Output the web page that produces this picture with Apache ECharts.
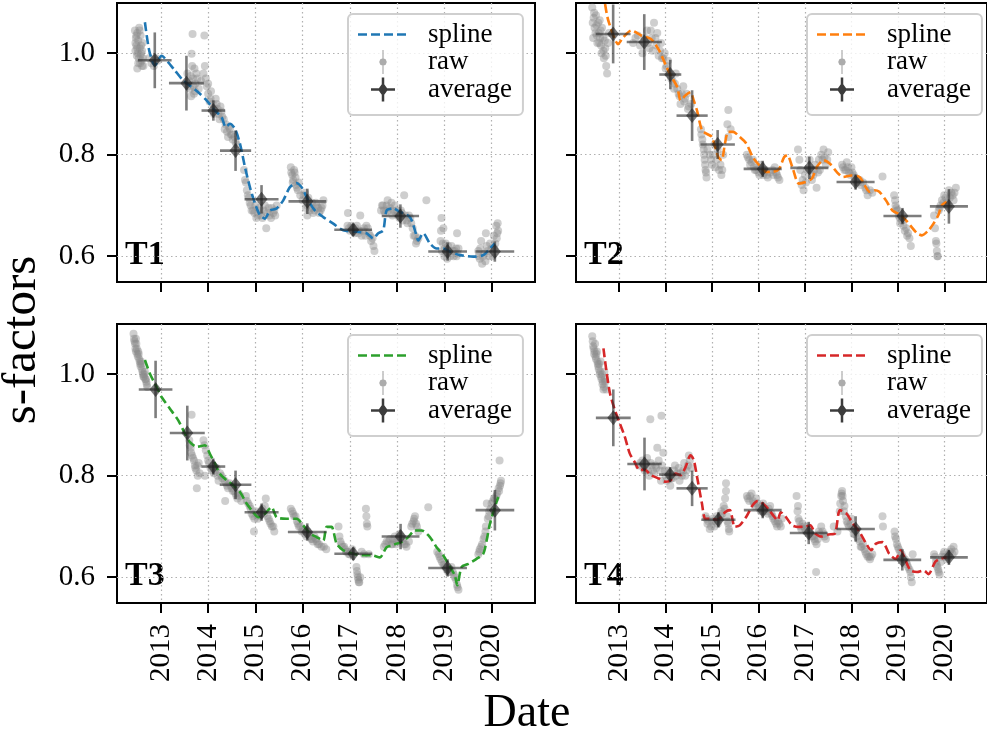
<!DOCTYPE html>
<html><head><meta charset="utf-8">
<script src="https://cdn.jsdelivr.net/npm/echarts@6/dist/echarts.min.js"></script>
<style>html,body{margin:0;padding:0;background:#fff}#c{width:987px;height:738px}</style>
</head><body><div id="c"></div>
<script>
// ---------- data ----------
const panelNames = ['T1', 'T2', 'T3', 'T4'];
const xTickYears = [2013, 2014, 2015, 2016, 2017, 2018, 2019, 2020];
const yTickValues = [0.6, 0.8, 1.0];
const xRange = [2012.07, 2020.92];
const yRange = [0.549, 1.099];
const xLabel = 'Date';
const yLabel = 's-factors';
const legendNames = ['spline', 'raw', 'average'];

const raw_T1 = [[2012.45,1.045],[2012.47,1.03],[2012.48,1.015],[2012.50,1.04],[2012.51,1.0],[2012.52,1.025],[2012.53,0.99],[2012.55,1.01],[2012.56,0.98],[2012.57,1.035],[2012.58,1.0],[2012.60,0.975],[2012.61,1.02],[2012.62,0.99],[2012.46,1.005],[2012.54,1.05],[2012.59,0.985],[2012.49,0.995],
[2012.46,1.02],[2012.48,1.035],[2012.5,1.01],[2012.52,0.98],[2012.55,1.045],[2012.57,0.995],[2012.6,1.005],[2012.63,0.975],[2012.5,0.97],[2012.58,1.015],
[2012.75,0.99],[2012.80,0.98],[2012.85,0.975],[2012.90,0.99],[2012.93,0.985],
[2013.67,1.038],[2013.92,1.035],[2013.65,0.999],
[2013.56,0.96],[2013.60,0.945],[2013.62,0.93],[2013.66,0.975],[2013.68,0.95],[2013.70,0.92],[2013.73,0.94],[2013.75,0.96],[2013.64,0.915],[2013.71,0.97],
[2013.58,0.935],[2013.63,0.955],[2013.69,0.935],[2013.72,0.925],[2013.77,0.95],[2013.8,0.93],[2013.85,0.945],
[2013.90,0.96],[2013.93,0.975],[2013.97,0.935],[2014.00,0.92],[2014.03,0.905],[2014.06,0.925],[2014.10,0.9],[2014.14,0.89],[2014.18,0.9],[2014.22,0.88],[2014.26,0.895],[2014.30,0.875],
[2013.95,0.95],[2014.0,0.94],[2014.05,0.91],[2014.12,0.88],[2014.16,0.91],[2014.2,0.89],[2014.24,0.87],[2014.28,0.885],
[2014.33,0.87],[2014.37,0.86],[2014.40,0.845],[2014.44,0.855],[2014.48,0.84],[2014.52,0.83],[2014.56,0.835],[2014.60,0.82],
[2014.35,0.85],[2014.42,0.835],[2014.46,0.85],[2014.5,0.84],[2014.58,0.825],
[2014.76,0.77],[2014.78,0.75],[2014.82,0.73],[2014.86,0.715],[2014.9,0.70],[2014.95,0.69],[2015.0,0.70],[2015.05,0.68],[2015.1,0.69],[2015.15,0.675],[2015.2,0.7],[2015.25,0.685],[2015.3,0.68],[2015.35,0.695],[2015.4,0.69],[2015.45,0.70],[2015.23,0.655],
[2014.8,0.745],[2014.84,0.72],[2014.88,0.705],[2014.92,0.69],[2014.98,0.685],[2015.02,0.675],[2015.08,0.695],[2015.12,0.68],[2015.18,0.69],[2015.28,0.695],[2015.33,0.675],[2015.38,0.685],[2015.42,0.68],
[2015.75,0.775],[2015.78,0.76],[2015.80,0.75],[2015.83,0.765],[2015.86,0.74],[2015.9,0.73],[2015.95,0.72],[2016.0,0.71],[2016.05,0.725],[2016.1,0.70],[2016.15,0.69],[2016.2,0.705],[2016.25,0.69],[2016.3,0.70],[2016.35,0.685],[2016.4,0.695],[2016.44,0.71],[2016.1,0.68],
[2015.76,0.765],[2015.79,0.745],[2015.82,0.77],[2015.85,0.755],[2015.88,0.735],[2015.92,0.745],[2016.02,0.72],[2016.07,0.695],[2016.12,0.715],[2016.18,0.695],[2016.22,0.685],[2016.28,0.705],[2016.33,0.695],[2016.38,0.69],[2016.42,0.7],
[2016.95,0.66],[2017.0,0.65],[2017.05,0.655],[2017.1,0.645],[2017.15,0.66],[2017.2,0.65],[2017.25,0.64],[2017.3,0.655],[2017.35,0.66],[2017.4,0.645],[2017.45,0.63],[2017.5,0.62],[2017.52,0.61],[2016.96,0.685],[2017.22,0.68],
[2016.98,0.655],[2017.03,0.66],[2017.08,0.65],[2017.12,0.655],[2017.18,0.645],[2017.28,0.65],[2017.33,0.64],[2017.38,0.655],[2017.43,0.64],[2017.48,0.635],
[2017.66,0.69],[2017.7,0.70],[2017.75,0.685],[2017.8,0.71],[2017.85,0.695],[2017.9,0.68],[2017.95,0.70],[2018.0,0.69],[2018.05,0.675],[2018.1,0.685],[2018.15,0.72],[2018.2,0.67],[2018.25,0.68],[2018.3,0.665],[2018.35,0.64],[2018.4,0.625],[2018.45,0.635],[2018.62,0.71],
[2017.68,0.7],[2017.72,0.69],[2017.78,0.7],[2017.82,0.69],[2017.88,0.705],[2017.92,0.69],[2017.98,0.685],[2018.02,0.68],[2018.08,0.69],[2018.12,0.67],[2018.18,0.68],[2018.22,0.665],[2018.28,0.675],[2018.33,0.655],[2018.38,0.64],[2018.42,0.63],
[2018.92,0.63],[2018.95,0.61],[2018.98,0.655],[2019.0,0.6],[2019.03,0.625],[2019.06,0.595],[2019.1,0.61],[2019.15,0.62],[2019.2,0.6],[2019.25,0.615],[2019.28,0.605],[2019.27,0.645],[2018.94,0.675],
[2018.93,0.65],[2018.97,0.625],[2019.01,0.615],[2019.04,0.605],[2019.08,0.62],[2019.12,0.6],[2019.18,0.61],[2019.22,0.61],[2019.26,0.6],[2019.3,0.615],
[2019.72,0.61],[2019.75,0.595],[2019.78,0.63],[2019.8,0.585],[2019.85,0.605],[2019.9,0.62],[2019.95,0.60],[2020.0,0.615],[2020.05,0.64],[2020.08,0.625],[2020.1,0.66],[2020.12,0.645],[2020.13,0.665],[2019.88,0.645],
[2019.73,0.6],[2019.76,0.615],[2019.82,0.6],[2019.87,0.59],[2019.92,0.61],[2019.97,0.625],[2020.02,0.6],[2020.06,0.615],[2020.11,0.635],[2020.14,0.65]];

const raw_T2 = [[2012.42,1.09],[2012.45,1.07],[2012.47,1.05],[2012.5,1.075],[2012.52,1.035],[2012.55,1.06],[2012.57,1.02],[2012.6,1.045],[2012.62,1.0],[2012.65,1.03],[2012.67,0.99],[2012.7,1.01],[2012.72,0.975],[2012.74,0.96],[2012.78,1.04],[2012.44,1.03],[2012.58,1.065],
[2012.43,1.06],[2012.46,1.08],[2012.49,1.04],[2012.51,1.055],[2012.53,1.02],[2012.56,1.04],[2012.59,1.03],[2012.61,1.015],[2012.63,1.05],[2012.66,1.005],[2012.69,1.025],[2012.71,0.995],[2012.76,1.02],
[2013.3,1.02],[2013.4,1.035],[2013.5,1.0],[2013.6,1.045],[2013.65,1.01],[2013.7,1.03],[2013.75,1.06],[2013.8,1.015],[2013.85,0.995],[2013.9,1.02],[2013.95,0.99],[2014.0,0.97],[2014.05,0.985],
[2013.35,1.03],[2013.45,1.015],[2013.55,1.03],[2013.62,1.02],[2013.68,1.045],[2013.72,1.005],[2013.78,1.03],[2013.82,1.04],[2013.88,1.005],[2013.92,0.99],[2013.98,1.0],[2014.02,0.975],[2014.08,0.96],
[2014.12,0.95],[2014.18,0.93],[2014.22,0.96],[2014.28,0.92],[2014.32,0.9],[2014.38,0.935],[2014.42,0.91],[2014.48,0.89],[2014.55,0.9],
[2014.15,0.945],[2014.2,0.94],[2014.25,0.93],[2014.3,0.915],[2014.35,0.92],[2014.4,0.905],[2014.45,0.92],[2014.5,0.895],
[2014.76,0.85],[2014.79,0.83],[2014.82,0.81],[2014.84,0.79],[2014.86,0.77],[2014.88,0.755],[2014.95,0.8],[2015.0,0.78],[2015.05,0.82],[2015.1,0.79],[2015.15,0.77],[2015.2,0.76],[2015.24,0.8],
[2014.77,0.84],[2014.8,0.82],[2014.83,0.8],[2014.85,0.78],[2014.87,0.765],[2014.9,0.81],[2014.98,0.79],[2015.02,0.8],[2015.07,0.775],[2015.12,0.81],[2015.18,0.78],[2015.22,0.77],
[2015.33,0.86],[2015.35,0.835],[2015.4,0.85],[2015.35,0.888],
[2015.75,0.80],[2015.8,0.79],[2015.85,0.785],[2015.9,0.775],[2015.95,0.77],[2016.0,0.765],[2016.05,0.78],[2016.1,0.76],[2016.15,0.77],[2016.2,0.755],[2016.3,0.77],[2016.35,0.775],[2016.4,0.76],[2016.45,0.75],
[2015.77,0.795],[2015.82,0.78],[2015.88,0.79],[2015.92,0.77],[2015.98,0.775],[2016.02,0.76],[2016.08,0.77],[2016.12,0.765],[2016.18,0.76],[2016.25,0.765],[2016.32,0.76],[2016.38,0.765],[2016.42,0.755],
[2016.85,0.81],[2016.9,0.77],[2016.93,0.74],[2016.97,0.73],[2017.0,0.76],[2017.1,0.79],[2017.15,0.75],[2017.2,0.77],[2017.25,0.735],[2017.3,0.79],[2017.35,0.8],[2017.4,0.81],[2017.45,0.78],[2017.5,0.805],
[2016.88,0.79],[2016.95,0.75],[2017.02,0.745],[2017.05,0.77],[2017.12,0.77],[2017.18,0.76],[2017.22,0.78],[2017.28,0.765],[2017.32,0.77],[2017.38,0.79],[2017.42,0.795],[2017.48,0.79],
[2017.8,0.78],[2017.85,0.77],[2017.9,0.785],[2017.95,0.765],[2018.0,0.775],[2018.05,0.76],[2018.1,0.75],[2018.15,0.745],[2018.2,0.74],[2018.3,0.735],[2018.35,0.72],[2018.45,0.725],[2018.67,0.757],
[2017.82,0.775],[2017.88,0.77],[2017.92,0.775],[2017.98,0.76],[2018.02,0.765],[2018.08,0.755],[2018.12,0.745],[2018.18,0.75],[2018.25,0.745],[2018.32,0.73],[2018.4,0.73],
[2018.92,0.72],[2018.95,0.7],[2018.98,0.69],[2019.02,0.68],[2019.05,0.665],[2019.1,0.67],[2019.15,0.65],[2019.2,0.64],[2019.25,0.635],[2019.28,0.62],
[2018.94,0.71],[2018.97,0.695],[2019.0,0.69],[2019.04,0.675],[2019.08,0.67],[2019.12,0.66],[2019.18,0.655],[2019.22,0.645],
[2019.78,0.68],[2019.8,0.655],[2019.82,0.63],[2019.84,0.61],[2019.86,0.6],[2019.9,0.695],[2019.95,0.71],[2020.0,0.72],[2020.05,0.705],[2020.1,0.73],[2020.15,0.725],[2020.2,0.71],[2020.25,0.735],
[2019.83,0.625],[2019.85,0.6],[2019.88,0.69],[2019.92,0.7],[2019.98,0.705],[2020.03,0.715],[2020.08,0.7],[2020.12,0.715],[2020.18,0.72],[2020.22,0.725]];

const raw_T3 = [[2012.42,1.08],[2012.44,1.065],[2012.46,1.05],[2012.48,1.06],[2012.5,1.04],[2012.52,1.045],[2012.54,1.03],[2012.56,1.02],[2012.58,1.025],[2012.6,1.01],[2012.62,1.0],[2012.64,0.995],[2012.66,1.005],[2012.68,0.99],[2012.7,0.98],[2012.47,1.07],
[2012.43,1.07],[2012.45,1.06],[2012.47,1.045],[2012.49,1.05],[2012.51,1.035],[2012.53,1.04],[2012.55,1.025],[2012.57,1.015],[2012.59,1.02],[2012.61,1.005],[2012.63,0.995],[2012.65,1.0],[2012.67,0.99],[2012.69,0.985],[2012.71,0.975],
[2013.6,0.87],[2013.63,0.855],[2013.66,0.84],[2013.7,0.83],[2013.72,0.82],[2013.75,0.81],[2013.78,0.8],[2013.8,0.825],[2013.65,0.92],[2013.76,0.775],
[2013.61,0.86],[2013.64,0.845],[2013.68,0.835],[2013.73,0.815],[2013.77,0.82],[2013.82,0.805],
[2013.9,0.87],[2013.95,0.85],[2014.0,0.83],[2014.05,0.815],[2014.1,0.82],[2014.15,0.81],[2014.2,0.8],[2014.25,0.805],[2014.3,0.795],[2013.93,0.8],
[2013.92,0.86],[2013.98,0.84],[2014.02,0.825],[2014.08,0.81],[2014.12,0.805],[2014.18,0.815],[2014.22,0.79],[2014.28,0.8],
[2014.35,0.79],[2014.4,0.78],[2014.45,0.785],[2014.5,0.775],[2014.55,0.77],[2014.6,0.76],[2014.65,0.765],[2014.7,0.75],[2014.36,0.75],
[2014.38,0.785],[2014.42,0.775],[2014.48,0.78],[2014.52,0.77],[2014.58,0.765],[2014.62,0.755],[2014.68,0.76],
[2014.8,0.76],[2014.85,0.745],[2014.9,0.735],[2014.95,0.72],[2015.0,0.73],[2015.05,0.715],[2015.1,0.725],[2015.15,0.735],[2015.2,0.74],[2015.25,0.72],[2015.3,0.71],[2015.35,0.7],[2015.4,0.69],[2014.97,0.69],[2015.22,0.755],
[2014.82,0.75],[2014.88,0.74],[2014.92,0.725],[2014.98,0.715],[2015.02,0.725],[2015.08,0.72],[2015.12,0.73],[2015.18,0.725],[2015.28,0.715],[2015.32,0.705],[2015.38,0.7],
[2015.75,0.735],[2015.8,0.725],[2015.85,0.72],[2015.9,0.705],[2015.95,0.7],[2016.0,0.695],[2016.05,0.685],[2016.1,0.69],[2016.15,0.68],[2016.2,0.675],[2016.25,0.68],[2016.3,0.67],[2016.35,0.665],[2016.45,0.66],[2016.5,0.655],
[2015.78,0.73],[2015.82,0.72],[2015.88,0.71],[2015.92,0.7],[2015.98,0.69],[2016.02,0.69],[2016.08,0.68],[2016.12,0.685],[2016.18,0.675],[2016.22,0.67],[2016.28,0.675],[2016.32,0.665],[2016.4,0.66],
[2016.76,0.7],[2016.8,0.67],[2016.85,0.66],[2016.9,0.655],[2016.95,0.65],[2017.0,0.645],[2017.05,0.655],
[2016.78,0.68],[2016.82,0.665],[2016.88,0.66],[2016.92,0.65],[2016.98,0.645],[2017.02,0.65],
[2017.14,0.62],[2017.16,0.605],[2017.18,0.595],[2017.2,0.59],[2017.22,0.6],[2017.15,0.612],[2017.17,0.6],[2017.19,0.59],
[2017.34,0.735],[2017.35,0.72],[2017.36,0.705],[2017.37,0.7],
[2017.25,0.65],[2017.3,0.645],[2017.4,0.645],
[2017.72,0.66],[2017.78,0.67],[2017.85,0.675],[2017.9,0.665],[2017.95,0.68],[2018.0,0.67],[2018.05,0.685],[2018.1,0.675],[2018.15,0.665],[2018.2,0.66],[2018.3,0.7],[2018.35,0.71],[2018.38,0.72],[2018.4,0.705],[2018.45,0.69],[2018.66,0.738],
[2017.75,0.665],[2017.82,0.67],[2017.88,0.665],[2017.92,0.675],[2017.98,0.665],[2018.02,0.675],[2018.08,0.68],[2018.12,0.67],[2018.18,0.665],[2018.25,0.67],[2018.32,0.705],[2018.36,0.715],[2018.42,0.7],
[2018.85,0.65],[2018.9,0.64],[2018.95,0.63],[2019.0,0.625],[2019.05,0.615],[2019.1,0.61],[2019.15,0.62],[2019.2,0.605],[2019.25,0.595],[2019.28,0.58],[2019.3,0.575],
[2018.88,0.645],[2018.92,0.635],[2018.98,0.625],[2019.02,0.62],[2019.08,0.61],[2019.12,0.615],[2019.18,0.61],[2019.22,0.6],[2019.27,0.585],
[2019.72,0.645],[2019.75,0.655],[2019.8,0.665],[2019.85,0.68],[2019.88,0.7],[2019.92,0.715],[2019.95,0.73],[2020.0,0.745],[2020.05,0.755],[2020.1,0.76],[2020.15,0.775],[2020.18,0.78],[2020.2,0.79],[2020.17,0.83],[2019.9,0.745],
[2019.74,0.65],[2019.78,0.66],[2019.83,0.675],[2019.87,0.69],[2019.94,0.72],[2019.98,0.735],[2020.03,0.75],[2020.08,0.755],[2020.12,0.765],[2020.16,0.77],[2020.19,0.785]];

const raw_T4 = [[2012.42,1.075],[2012.44,1.055],[2012.46,1.04],[2012.48,1.06],[2012.5,1.03],[2012.52,1.045],[2012.54,1.02],[2012.56,1.01],[2012.58,1.0],[2012.6,1.025],[2012.62,0.99],[2012.64,0.98],[2012.66,0.97],[2012.68,1.005],[2012.7,0.985],
[2012.43,1.065],[2012.45,1.05],[2012.47,1.045],[2012.49,1.035],[2012.51,1.04],[2012.53,1.025],[2012.55,1.015],[2012.57,1.02],[2012.59,1.005],[2012.61,0.995],[2012.63,1.0],[2012.65,0.985],[2012.67,0.975],[2012.69,0.99],[2012.72,0.97],
[2013.67,0.911],[2013.91,0.918],
[2013.42,0.82],[2013.5,0.83],[2013.55,0.81],[2013.6,0.835],[2013.65,0.8],[2013.7,0.82],[2013.75,0.805],[2013.8,0.815],[2013.85,0.83],[2013.9,0.79],[2013.95,0.845],[2014.0,0.8],[2014.05,0.81],[2014.1,0.78],[2014.15,0.795],[2014.2,0.82],[2014.25,0.805],[2014.3,0.79],[2014.35,0.8],[2014.4,0.825],[2014.45,0.81],[2014.5,0.84],[2014.55,0.815],[2013.82,0.855],
[2013.45,0.825],[2013.52,0.815],[2013.58,0.825],[2013.62,0.81],[2013.68,0.825],[2013.72,0.81],[2013.78,0.82],[2013.88,0.81],[2013.92,0.82],[2013.98,0.81],[2014.02,0.79],[2014.08,0.805],[2014.12,0.795],[2014.18,0.81],[2014.22,0.8],[2014.28,0.815],[2014.32,0.805],[2014.38,0.81],[2014.42,0.8],[2014.48,0.82],[2014.52,0.83],
[2014.86,0.72],[2014.9,0.705],[2014.95,0.695],[2015.0,0.71],[2015.05,0.7],[2015.1,0.72],[2015.15,0.715],[2015.2,0.73],[2015.25,0.74],[2015.28,0.755],[2015.3,0.77],[2015.32,0.72],[2015.35,0.705],[2015.37,0.69],[2015.3,0.785],
[2014.88,0.715],[2014.92,0.71],[2014.98,0.7],[2015.02,0.715],[2015.08,0.71],[2015.12,0.705],[2015.18,0.72],[2015.22,0.725],[2015.27,0.735],[2015.33,0.71],[2015.36,0.695],
[2015.75,0.76],[2015.8,0.75],[2015.85,0.765],[2015.9,0.745],[2015.95,0.755],[2016.0,0.74],[2016.05,0.73],[2016.1,0.745],[2016.15,0.735],[2016.2,0.725],[2016.25,0.74],[2016.3,0.72],[2016.35,0.71],[2016.4,0.7],[2016.45,0.705],[2016.5,0.715],
[2015.77,0.755],[2015.82,0.76],[2015.88,0.75],[2015.92,0.74],[2015.98,0.745],[2016.02,0.735],[2016.08,0.74],[2016.12,0.73],[2016.18,0.73],[2016.22,0.735],[2016.28,0.725],[2016.32,0.715],[2016.38,0.705],[2016.42,0.71],[2016.48,0.7],
[2016.82,0.76],[2016.84,0.73],[2016.86,0.715],[2016.9,0.7],[2016.95,0.705],[2017.0,0.695],[2017.05,0.7],[2017.1,0.69],[2017.15,0.68],[2017.2,0.675],[2017.25,0.665],[2017.3,0.69],[2017.35,0.7],[2017.4,0.685],[2017.45,0.675],[2017.24,0.61],
[2016.85,0.74],[2016.88,0.71],[2016.92,0.695],[2016.98,0.7],[2017.02,0.69],[2017.08,0.695],[2017.12,0.685],[2017.18,0.68],[2017.22,0.67],[2017.28,0.675],[2017.32,0.685],[2017.38,0.69],[2017.42,0.68],
[2017.62,0.7],[2017.7,0.69],[2017.75,0.73],[2017.78,0.76],[2017.8,0.77],[2017.82,0.75],[2017.85,0.74],[2017.9,0.71],[2017.95,0.7],[2018.0,0.715],[2018.05,0.685],[2018.1,0.69],[2018.15,0.675],[2018.2,0.66],[2018.25,0.665],[2018.3,0.65],[2018.35,0.64],[2018.4,0.635],[2018.45,0.645],[2018.67,0.72],[2018.68,0.7],
[2017.76,0.745],[2017.79,0.765],[2017.81,0.76],[2017.84,0.73],[2017.88,0.72],[2017.92,0.705],[2017.98,0.705],[2018.02,0.695],[2018.08,0.685],[2018.12,0.68],[2018.18,0.67],[2018.22,0.66],[2018.28,0.655],[2018.32,0.645],[2018.38,0.64],[2018.42,0.64],
[2018.93,0.69],[2018.96,0.675],[2019.0,0.66],[2019.05,0.65],[2019.1,0.64],[2019.15,0.635],[2019.2,0.625],[2019.25,0.615],[2019.28,0.6],[2019.3,0.59],[2019.32,0.645],
[2018.94,0.68],[2018.98,0.665],[2019.02,0.655],[2019.08,0.645],[2019.12,0.635],[2019.18,0.63],[2019.22,0.62],[2019.27,0.61],
[2019.78,0.645],[2019.82,0.63],[2019.85,0.62],[2019.88,0.61],[2019.9,0.605],[2019.95,0.64],[2020.0,0.65],[2020.05,0.635],[2020.1,0.645],[2020.15,0.655],[2020.2,0.66],[2020.22,0.65],
[2019.8,0.64],[2019.84,0.625],[2019.87,0.615],[2019.92,0.63],[2019.98,0.645],[2020.02,0.64],[2020.08,0.64],[2020.12,0.65],[2020.18,0.645]];

// average: [date, value, date error, value error]
const avg_T1 = [[2012.87,0.986,0.356,0.055],[2013.54,0.941,0.37,0.054],[2014.11,0.887,0.25,0.02],[2014.58,0.808,0.33,0.04],[2015.13,0.712,0.36,0.028],[2016.10,0.708,0.40,0.025],[2017.07,0.652,0.40,0.012],[2018.07,0.679,0.395,0.023],[2019.07,0.609,0.41,0.018],[2020.07,0.609,0.41,0.02]];
const avg_T2 = [[2012.87,1.038,0.375,0.058],[2013.54,1.022,0.378,0.055],[2014.10,0.958,0.237,0.029],[2014.57,0.877,0.336,0.05],[2015.12,0.820,0.371,0.0285],[2016.09,0.772,0.41,0.016],[2017.095,0.774,0.41,0.022],[2018.09,0.746,0.41,0.015],[2019.10,0.679,0.41,0.016],[2020.10,0.698,0.41,0.034]];
const avg_T3 = [[2012.887,0.970,0.356,0.0566],[2013.558,0.884,0.37,0.054],[2014.108,0.818,0.254,0.016],[2014.58,0.782,0.335,0.028],[2015.131,0.728,0.36,0.017],[2016.098,0.689,0.41,0.017],[2017.072,0.646,0.40,0.0125],[2018.074,0.680,0.40,0.025],[2019.069,0.618,0.41,0.017],[2020.071,0.732,0.41,0.04]];
const avg_T4 = [[2012.873,0.914,0.375,0.056],[2013.545,0.823,0.37,0.052],[2014.096,0.802,0.237,0.015],[2014.57,0.775,0.336,0.035],[2015.136,0.713,0.368,0.015],[2016.091,0.732,0.407,0.016],[2017.081,0.687,0.407,0.022],[2018.092,0.695,0.413,0.025],[2019.096,0.634,0.407,0.021],[2020.10,0.639,0.407,0.015]];

const spline_T1 = [[2012.661,1.061],[2012.753,1.005],[2012.873,0.976],[2013.014,0.995],[2013.155,0.982],[2013.296,0.966],[2013.473,0.946],[2013.614,0.936],[2013.790,0.923],[2013.967,0.907],[2014.143,0.887],[2014.284,0.874],[2014.376,0.854],[2014.461,0.861],[2014.567,0.851],[2014.673,0.822],[2014.778,0.776],[2014.884,0.736],[2014.990,0.704],[2015.096,0.681],[2015.202,0.674],[2015.308,0.690],[2015.449,0.694],[2015.590,0.710],[2015.731,0.736],[2015.872,0.744],[2015.978,0.736],[2016.119,0.710],[2016.260,0.690],[2016.437,0.677],[2016.649,0.664],[2016.860,0.651],[2017.143,0.648],[2017.354,0.645],[2017.495,0.635],[2017.601,0.645],[2017.707,0.651],[2017.778,0.690],[2017.919,0.694],[2018.060,0.687],[2018.272,0.677],[2018.378,0.651],[2018.448,0.631],[2018.554,0.645],[2018.695,0.625],[2018.836,0.615],[2018.977,0.615],[2019.119,0.609],[2019.330,0.602],[2019.613,0.599],[2019.824,0.602],[2019.965,0.615],[2020.071,0.625]];
const spline_T2 = [[2012.696,1.097],[2012.767,1.064],[2012.979,1.018],[2013.085,1.031],[2013.262,1.045],[2013.474,1.035],[2013.686,1.028],[2013.863,1.005],[2014.004,0.976],[2014.110,0.956],[2014.252,0.933],[2014.322,0.907],[2014.429,0.917],[2014.535,0.923],[2014.605,0.907],[2014.676,0.887],[2014.782,0.848],[2014.888,0.841],[2014.994,0.835],[2015.136,0.795],[2015.207,0.789],[2015.277,0.822],[2015.348,0.845],[2015.454,0.845],[2015.595,0.835],[2015.737,0.822],[2015.878,0.795],[2016.020,0.779],[2016.161,0.766],[2016.303,0.766],[2016.444,0.772],[2016.550,0.795],[2016.621,0.799],[2016.727,0.776],[2016.868,0.743],[2017.010,0.746],[2017.151,0.753],[2017.257,0.776],[2017.399,0.789],[2017.540,0.782],[2017.682,0.766],[2017.823,0.756],[2018.000,0.759],[2018.177,0.756],[2018.283,0.740],[2018.389,0.727],[2018.495,0.730],[2018.601,0.727],[2018.743,0.710],[2018.884,0.690],[2019.061,0.681],[2019.202,0.668],[2019.414,0.645],[2019.520,0.641],[2019.662,0.651],[2019.768,0.664],[2019.874,0.681],[2019.945,0.700],[2020.051,0.707]];
const spline_T3 = [[2012.661,1.028],[2012.767,1.001],[2012.908,0.975],[2013.014,0.955],[2013.191,0.932],[2013.367,0.909],[2013.508,0.883],[2013.614,0.866],[2013.755,0.857],[2013.932,0.860],[2014.037,0.843],[2014.143,0.824],[2014.249,0.804],[2014.390,0.791],[2014.531,0.781],[2014.673,0.768],[2014.814,0.745],[2014.955,0.728],[2015.061,0.718],[2015.202,0.725],[2015.343,0.738],[2015.449,0.718],[2015.661,0.715],[2015.872,0.715],[2016.013,0.702],[2016.155,0.686],[2016.296,0.679],[2016.437,0.672],[2016.507,0.699],[2016.613,0.699],[2016.719,0.666],[2016.860,0.653],[2017.072,0.646],[2017.284,0.643],[2017.460,0.643],[2017.637,0.639],[2017.778,0.659],[2017.884,0.662],[2017.989,0.666],[2018.095,0.669],[2018.236,0.679],[2018.378,0.692],[2018.519,0.692],[2018.695,0.679],[2018.836,0.659],[2018.977,0.643],[2019.119,0.620],[2019.224,0.603],[2019.274,0.584],[2019.366,0.620],[2019.507,0.626],[2019.683,0.636],[2019.824,0.646],[2019.895,0.672],[2019.965,0.705],[2020.071,0.738],[2020.141,0.758]];
const spline_T4 = [[2012.661,1.051],[2012.731,1.002],[2012.802,0.962],[2012.908,0.929],[2013.014,0.903],[2013.120,0.877],[2013.226,0.844],[2013.332,0.827],[2013.438,0.811],[2013.545,0.812],[2013.686,0.801],[2013.863,0.794],[2014.004,0.788],[2014.110,0.791],[2014.216,0.804],[2014.322,0.801],[2014.429,0.817],[2014.535,0.840],[2014.605,0.831],[2014.676,0.798],[2014.782,0.745],[2014.853,0.715],[2014.959,0.715],[2015.100,0.713],[2015.206,0.719],[2015.277,0.728],[2015.383,0.732],[2015.489,0.699],[2015.595,0.702],[2015.737,0.719],[2015.878,0.742],[2015.984,0.750],[2016.091,0.745],[2016.232,0.732],[2016.338,0.719],[2016.409,0.712],[2016.479,0.728],[2016.585,0.719],[2016.726,0.702],[2016.868,0.699],[2017.010,0.700],[2017.116,0.702],[2017.222,0.686],[2017.364,0.680],[2017.505,0.684],[2017.646,0.686],[2017.752,0.732],[2017.894,0.725],[2018.035,0.705],[2018.177,0.689],[2018.318,0.666],[2018.424,0.653],[2018.530,0.666],[2018.672,0.669],[2018.813,0.646],[2018.955,0.636],[2019.061,0.653],[2019.167,0.633],[2019.273,0.613],[2019.414,0.610],[2019.556,0.613],[2019.662,0.606],[2019.803,0.630],[2019.909,0.636],[2020.051,0.639]];

// ---------- styles / layout ----------
const rawData = [raw_T1, raw_T2, raw_T3, raw_T4];
const avgData = [avg_T1, avg_T2, avg_T3, avg_T4];
const splineData = [spline_T1, spline_T2, spline_T3, spline_T4];
const splineColors = ['#1f77b4', '#ff7f0e', '#2ca02c', '#d62728'];
const FONT = 'Liberation Serif';
const grids = [
  {left: 117, top: 3, width: 418, height: 279},
  {left: 576, top: 3, width: 418, height: 279},
  {left: 117, top: 324, width: 418, height: 279},
  {left: 576, top: 324, width: 418, height: 279}
];
const BOX = 'M0,-12L0,-12Z M65,12L65,12Z ';
const ICON_SPLINE = 'path://' + BOX + 'M0,-1.3L9,-1.3L9,1.3L0,1.3Z M13,-1.3L22,-1.3L22,1.3L13,1.3Z M26,-1.3L35,-1.3L35,1.3L26,1.3Z M39,-1.3L48,-1.3L48,1.3L39,1.3Z';
const ICON_RAW = 'path://' + BOX + 'M24.4,-12L25.6,-12L25.6,-3.6L24.4,-3.6Z M24.4,3.6L25.6,3.6L25.6,12L24.4,12Z M25,-3.8L27.7,-2.7L28.8,0L27.7,2.7L25,3.8L22.3,2.7L21.2,0L22.3,-2.7Z';
const ICON_AVG = 'path://' + BOX + 'M13,-1.25L37,-1.25L37,1.25L13,1.25Z M23.75,-12L26.25,-12L26.25,12L23.75,12Z M25,-7L30,0L25,7L20,0Z';

const gridLine = {show: true, lineStyle: {color: '#b0b0b0', width: 1.2, type: [1.5, 3]}};
const tickStyle = {color: '#000', width: 2};

const xAxes = grids.map((g, i) => ({
  type: 'value', gridIndex: i, min: xRange[0], max: xRange[1],
  axisLine: {show: false},
  axisTick: {show: true, length: 10, lineStyle: tickStyle, customValues: xTickYears},
  axisLabel: {show: i >= 2, customValues: xTickYears, rotate: 90, margin: 21, fontFamily: FONT, fontSize: 29, color: '#000',
    formatter: v => String(Math.round(v))},
  splitLine: gridLine
}));
const yAxes = grids.map((g, i) => ({
  type: 'value', gridIndex: i, min: yRange[0], max: yRange[1],
  axisLine: {show: false},
  axisTick: {show: true, length: 10, lineStyle: tickStyle, customValues: yTickValues},
  axisLabel: {show: i % 2 === 0, customValues: yTickValues, margin: 22, fontFamily: FONT, fontSize: 29, color: '#000',
    formatter: v => v.toFixed(1)},
  splitLine: gridLine
}));

function renderErr(params, api) {
  const x = api.value(0), y = api.value(1), xe = api.value(2), ye = api.value(3);
  const l = api.coord([x - xe, y]), r = api.coord([x + xe, y]);
  const b = api.coord([x, y - ye]), t = api.coord([x, y + ye]);
  const st = {stroke: 'rgba(45,45,45,0.62)', lineWidth: 2.6};
  return {type: 'group', children: [
    {type: 'line', shape: {x1: l[0], y1: l[1], x2: r[0], y2: r[1]}, style: st},
    {type: 'line', shape: {x1: b[0], y1: b[1], x2: t[0], y2: t[1]}, style: st}
  ]};
}

const series = [];
grids.forEach((g, i) => {
  series.push({type: 'scatter', name: 'raw', xAxisIndex: i, yAxisIndex: i, data: rawData[i],
    symbolSize: 8, itemStyle: {color: '#8a8a8a', opacity: 0.42}, silent: true, z: 2});
  series.push({type: 'line', name: 'spline', xAxisIndex: i, yAxisIndex: i, data: splineData[i],
    showSymbol: false, smooth: 0.25, lineStyle: {color: splineColors[i], width: 2.6, type: [9, 4]},
    itemStyle: {color: splineColors[i]}, silent: true, z: 3});
  series.push({type: 'custom', name: 'average', xAxisIndex: i, yAxisIndex: i, data: avgData[i],
    encode: {x: 0, y: 1}, renderItem: renderErr, silent: true, z: 4});
  series.push({type: 'scatter', name: 'average', xAxisIndex: i, yAxisIndex: i,
    data: avgData[i].map(d => [d[0], d[1]]), symbol: 'diamond', symbolSize: [12, 15],
    itemStyle: {color: 'rgba(25,25,25,0.72)'}, silent: true, z: 5});
});

const legends = grids.map((g, i) => ({
  left: g.left + 231, top: g.top + 11, orient: 'vertical',
  padding: [7, 11, 12, 10], itemGap: 0.5, itemWidth: 65, itemHeight: 24, selectedMode: false,
  backgroundColor: 'rgba(255,255,255,0.8)', borderColor: '#cfcfcf', borderWidth: 2, borderRadius: 5,
  textStyle: {fontFamily: FONT, fontSize: 27, color: '#000', lineHeight: 24},
  data: [
    {name: legendNames[0], icon: ICON_SPLINE, itemStyle: {color: splineColors[i], borderWidth: 0, opacity: 1}},
    {name: legendNames[1], icon: ICON_RAW, itemStyle: {color: '#acacac', borderWidth: 0, opacity: 1}},
    {name: legendNames[2], icon: ICON_AVG, itemStyle: {color: '#3c3c3c', borderWidth: 0, opacity: 1}}
  ]
}));

const graphics = grids.map((g, i) => ({
  type: 'text', x: g.left + 8, y: g.top + 252, silent: true,
  style: {text: panelNames[i], font: 'bold 34px "Liberation Serif"', fill: '#000', align: 'left', verticalAlign: 'middle'}
}));
graphics.push({type: 'text', x: 527, y: 714, silent: true,
  style: {text: xLabel, font: '46px "Liberation Serif"', fill: '#000', align: 'center', verticalAlign: 'middle'}});
graphics.push({type: 'text', x: 22, y: 340, rotation: Math.PI / 2, silent: true,
  style: {text: yLabel, font: '49px "Liberation Serif"', fill: '#000', align: 'center', verticalAlign: 'middle'}});

const chart = echarts.init(document.getElementById('c'), null, {renderer: 'canvas'});
chart.setOption({
  animation: false,
  backgroundColor: '#fff',
  grid: grids.map(g => Object.assign({show: true, borderColor: '#000', borderWidth: 2, backgroundColor: 'transparent'}, g)),
  xAxis: xAxes,
  yAxis: yAxes,
  legend: legends,
  series: series,
  graphic: graphics
});
</script></body></html>
